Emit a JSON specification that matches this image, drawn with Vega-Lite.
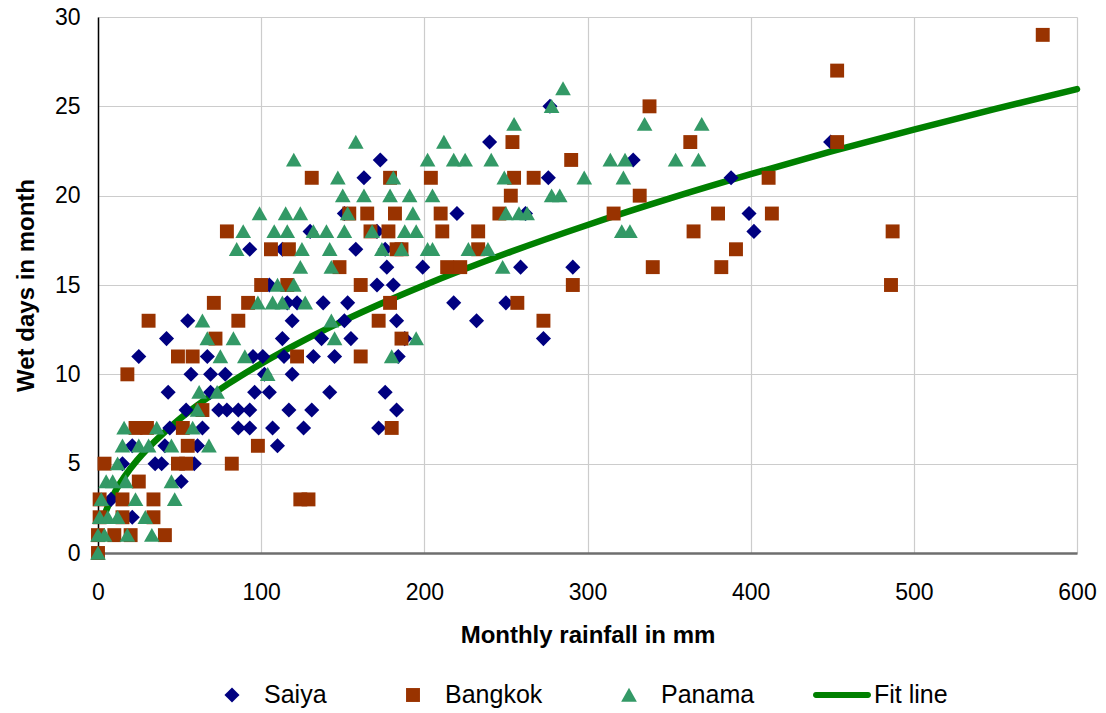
{
  "$schema": "https://vega.github.io/schema/vega-lite/v6.json",
  "autosize": "none",
  "width": 979,
  "height": 536,
  "padding": {"left": 98, "top": 17, "right": 29, "bottom": 160},
  "background": "white",
  "config": {
    "font": "Liberation Sans",
    "view": {"stroke": null},
    "axis": {
      "labelFont": "Liberation Sans",
      "labelFontSize": 23,
      "labelColor": "black",
      "labelFlush": false,
      "titleFont": "Liberation Sans",
      "titleFontSize": 24,
      "titleFontWeight": "bold",
      "titleColor": "black",
      "ticks": false,
      "grid": true,
      "gridColor": "#cccccc",
      "gridWidth": 1.2
    },
    "legend": {
      "labelFont": "Liberation Sans",
      "labelFontSize": 25,
      "labelColor": "black"
    }
  },
  "datasets": {
    "points": [
      {"series":"Saiya","rain":277,"days":25},
      {"series":"Saiya","rain":240,"days":23},
      {"series":"Saiya","rain":449,"days":23},
      {"series":"Saiya","rain":173,"days":22},
      {"series":"Saiya","rain":328,"days":22},
      {"series":"Saiya","rain":163,"days":21},
      {"series":"Saiya","rain":276,"days":21},
      {"series":"Saiya","rain":388,"days":21},
      {"series":"Saiya","rain":151,"days":19},
      {"series":"Saiya","rain":220,"days":19},
      {"series":"Saiya","rain":262,"days":19},
      {"series":"Saiya","rain":399,"days":19},
      {"series":"Saiya","rain":130,"days":18},
      {"series":"Saiya","rain":171,"days":18},
      {"series":"Saiya","rain":402,"days":18},
      {"series":"Saiya","rain":93,"days":17},
      {"series":"Saiya","rain":113,"days":17},
      {"series":"Saiya","rain":158,"days":17},
      {"series":"Saiya","rain":176,"days":17},
      {"series":"Saiya","rain":177,"days":16},
      {"series":"Saiya","rain":199,"days":16},
      {"series":"Saiya","rain":259,"days":16},
      {"series":"Saiya","rain":291,"days":16},
      {"series":"Saiya","rain":105,"days":15},
      {"series":"Saiya","rain":171,"days":15},
      {"series":"Saiya","rain":181,"days":15},
      {"series":"Saiya","rain":116,"days":14},
      {"series":"Saiya","rain":122,"days":14},
      {"series":"Saiya","rain":138,"days":14},
      {"series":"Saiya","rain":153,"days":14},
      {"series":"Saiya","rain":218,"days":14},
      {"series":"Saiya","rain":250,"days":14},
      {"series":"Saiya","rain":55,"days":13},
      {"series":"Saiya","rain":119,"days":13},
      {"series":"Saiya","rain":151,"days":13},
      {"series":"Saiya","rain":183,"days":13},
      {"series":"Saiya","rain":232,"days":13},
      {"series":"Saiya","rain":42,"days":12},
      {"series":"Saiya","rain":113,"days":12},
      {"series":"Saiya","rain":137,"days":12},
      {"series":"Saiya","rain":155,"days":12},
      {"series":"Saiya","rain":188,"days":12},
      {"series":"Saiya","rain":273,"days":12},
      {"series":"Saiya","rain":25,"days":11},
      {"series":"Saiya","rain":67,"days":11},
      {"series":"Saiya","rain":95,"days":11},
      {"series":"Saiya","rain":101,"days":11},
      {"series":"Saiya","rain":114,"days":11},
      {"series":"Saiya","rain":132,"days":11},
      {"series":"Saiya","rain":145,"days":11},
      {"series":"Saiya","rain":184,"days":11},
      {"series":"Saiya","rain":57,"days":10},
      {"series":"Saiya","rain":69,"days":10},
      {"series":"Saiya","rain":78,"days":10},
      {"series":"Saiya","rain":102,"days":10},
      {"series":"Saiya","rain":119,"days":10},
      {"series":"Saiya","rain":43,"days":9},
      {"series":"Saiya","rain":69,"days":9},
      {"series":"Saiya","rain":96,"days":9},
      {"series":"Saiya","rain":105,"days":9},
      {"series":"Saiya","rain":142,"days":9},
      {"series":"Saiya","rain":176,"days":9},
      {"series":"Saiya","rain":54,"days":8},
      {"series":"Saiya","rain":74,"days":8},
      {"series":"Saiya","rain":79,"days":8},
      {"series":"Saiya","rain":86,"days":8},
      {"series":"Saiya","rain":93,"days":8},
      {"series":"Saiya","rain":117,"days":8},
      {"series":"Saiya","rain":131,"days":8},
      {"series":"Saiya","rain":183,"days":8},
      {"series":"Saiya","rain":44,"days":7},
      {"series":"Saiya","rain":64,"days":7},
      {"series":"Saiya","rain":86,"days":7},
      {"series":"Saiya","rain":93,"days":7},
      {"series":"Saiya","rain":107,"days":7},
      {"series":"Saiya","rain":126,"days":7},
      {"series":"Saiya","rain":172,"days":7},
      {"series":"Saiya","rain":21,"days":6},
      {"series":"Saiya","rain":41,"days":6},
      {"series":"Saiya","rain":61,"days":6},
      {"series":"Saiya","rain":110,"days":6},
      {"series":"Saiya","rain":15,"days":5},
      {"series":"Saiya","rain":35,"days":5},
      {"series":"Saiya","rain":39,"days":5},
      {"series":"Saiya","rain":59,"days":5},
      {"series":"Saiya","rain":51,"days":4},
      {"series":"Saiya","rain":8,"days":3},
      {"series":"Saiya","rain":21,"days":2},
      {"series":"Bangkok","rain":579,"days":29},
      {"series":"Bangkok","rain":453,"days":27},
      {"series":"Bangkok","rain":338,"days":25},
      {"series":"Bangkok","rain":254,"days":23},
      {"series":"Bangkok","rain":363,"days":23},
      {"series":"Bangkok","rain":453,"days":23},
      {"series":"Bangkok","rain":290,"days":22},
      {"series":"Bangkok","rain":131,"days":21},
      {"series":"Bangkok","rain":179,"days":21},
      {"series":"Bangkok","rain":204,"days":21},
      {"series":"Bangkok","rain":255,"days":21},
      {"series":"Bangkok","rain":267,"days":21},
      {"series":"Bangkok","rain":411,"days":21},
      {"series":"Bangkok","rain":253,"days":20},
      {"series":"Bangkok","rain":332,"days":20},
      {"series":"Bangkok","rain":154,"days":19},
      {"series":"Bangkok","rain":165,"days":19},
      {"series":"Bangkok","rain":182,"days":19},
      {"series":"Bangkok","rain":210,"days":19},
      {"series":"Bangkok","rain":246,"days":19},
      {"series":"Bangkok","rain":316,"days":19},
      {"series":"Bangkok","rain":380,"days":19},
      {"series":"Bangkok","rain":413,"days":19},
      {"series":"Bangkok","rain":79,"days":18},
      {"series":"Bangkok","rain":167,"days":18},
      {"series":"Bangkok","rain":178,"days":18},
      {"series":"Bangkok","rain":211,"days":18},
      {"series":"Bangkok","rain":233,"days":18},
      {"series":"Bangkok","rain":365,"days":18},
      {"series":"Bangkok","rain":487,"days":18},
      {"series":"Bangkok","rain":106,"days":17},
      {"series":"Bangkok","rain":117,"days":17},
      {"series":"Bangkok","rain":183,"days":17},
      {"series":"Bangkok","rain":186,"days":17},
      {"series":"Bangkok","rain":233,"days":17},
      {"series":"Bangkok","rain":391,"days":17},
      {"series":"Bangkok","rain":148,"days":16},
      {"series":"Bangkok","rain":214,"days":16},
      {"series":"Bangkok","rain":222,"days":16},
      {"series":"Bangkok","rain":340,"days":16},
      {"series":"Bangkok","rain":382,"days":16},
      {"series":"Bangkok","rain":100,"days":15},
      {"series":"Bangkok","rain":116,"days":15},
      {"series":"Bangkok","rain":161,"days":15},
      {"series":"Bangkok","rain":291,"days":15},
      {"series":"Bangkok","rain":486,"days":15},
      {"series":"Bangkok","rain":71,"days":14},
      {"series":"Bangkok","rain":92,"days":14},
      {"series":"Bangkok","rain":179,"days":14},
      {"series":"Bangkok","rain":257,"days":14},
      {"series":"Bangkok","rain":31,"days":13},
      {"series":"Bangkok","rain":86,"days":13},
      {"series":"Bangkok","rain":172,"days":13},
      {"series":"Bangkok","rain":273,"days":13},
      {"series":"Bangkok","rain":72,"days":12},
      {"series":"Bangkok","rain":186,"days":12},
      {"series":"Bangkok","rain":49,"days":11},
      {"series":"Bangkok","rain":58,"days":11},
      {"series":"Bangkok","rain":122,"days":11},
      {"series":"Bangkok","rain":161,"days":11},
      {"series":"Bangkok","rain":18,"days":10},
      {"series":"Bangkok","rain":64,"days":8},
      {"series":"Bangkok","rain":23,"days":7},
      {"series":"Bangkok","rain":30,"days":7},
      {"series":"Bangkok","rain":52,"days":7},
      {"series":"Bangkok","rain":180,"days":7},
      {"series":"Bangkok","rain":55,"days":6},
      {"series":"Bangkok","rain":98,"days":6},
      {"series":"Bangkok","rain":4,"days":5},
      {"series":"Bangkok","rain":49,"days":5},
      {"series":"Bangkok","rain":54,"days":5},
      {"series":"Bangkok","rain":82,"days":5},
      {"series":"Bangkok","rain":25,"days":4},
      {"series":"Bangkok","rain":1,"days":3},
      {"series":"Bangkok","rain":15,"days":3},
      {"series":"Bangkok","rain":34,"days":3},
      {"series":"Bangkok","rain":124,"days":3},
      {"series":"Bangkok","rain":129,"days":3},
      {"series":"Bangkok","rain":1,"days":2},
      {"series":"Bangkok","rain":15,"days":2},
      {"series":"Bangkok","rain":34,"days":2},
      {"series":"Bangkok","rain":0,"days":1},
      {"series":"Bangkok","rain":10,"days":1},
      {"series":"Bangkok","rain":20,"days":1},
      {"series":"Bangkok","rain":41,"days":1},
      {"series":"Bangkok","rain":0,"days":0},
      {"series":"Panama","rain":285,"days":26},
      {"series":"Panama","rain":278,"days":25},
      {"series":"Panama","rain":255,"days":24},
      {"series":"Panama","rain":335,"days":24},
      {"series":"Panama","rain":370,"days":24},
      {"series":"Panama","rain":158,"days":23},
      {"series":"Panama","rain":212,"days":23},
      {"series":"Panama","rain":120,"days":22},
      {"series":"Panama","rain":202,"days":22},
      {"series":"Panama","rain":218,"days":22},
      {"series":"Panama","rain":225,"days":22},
      {"series":"Panama","rain":241,"days":22},
      {"series":"Panama","rain":314,"days":22},
      {"series":"Panama","rain":323,"days":22},
      {"series":"Panama","rain":354,"days":22},
      {"series":"Panama","rain":368,"days":22},
      {"series":"Panama","rain":147,"days":21},
      {"series":"Panama","rain":181,"days":21},
      {"series":"Panama","rain":249,"days":21},
      {"series":"Panama","rain":298,"days":21},
      {"series":"Panama","rain":322,"days":21},
      {"series":"Panama","rain":150,"days":20},
      {"series":"Panama","rain":163,"days":20},
      {"series":"Panama","rain":179,"days":20},
      {"series":"Panama","rain":191,"days":20},
      {"series":"Panama","rain":205,"days":20},
      {"series":"Panama","rain":278,"days":20},
      {"series":"Panama","rain":283,"days":20},
      {"series":"Panama","rain":99,"days":19},
      {"series":"Panama","rain":115,"days":19},
      {"series":"Panama","rain":124,"days":19},
      {"series":"Panama","rain":153,"days":19},
      {"series":"Panama","rain":193,"days":19},
      {"series":"Panama","rain":250,"days":19},
      {"series":"Panama","rain":258,"days":19},
      {"series":"Panama","rain":263,"days":19},
      {"series":"Panama","rain":89,"days":18},
      {"series":"Panama","rain":108,"days":18},
      {"series":"Panama","rain":116,"days":18},
      {"series":"Panama","rain":132,"days":18},
      {"series":"Panama","rain":140,"days":18},
      {"series":"Panama","rain":151,"days":18},
      {"series":"Panama","rain":168,"days":18},
      {"series":"Panama","rain":188,"days":18},
      {"series":"Panama","rain":195,"days":18},
      {"series":"Panama","rain":321,"days":18},
      {"series":"Panama","rain":326,"days":18},
      {"series":"Panama","rain":85,"days":17},
      {"series":"Panama","rain":125,"days":17},
      {"series":"Panama","rain":142,"days":17},
      {"series":"Panama","rain":174,"days":17},
      {"series":"Panama","rain":186,"days":17},
      {"series":"Panama","rain":202,"days":17},
      {"series":"Panama","rain":205,"days":17},
      {"series":"Panama","rain":227,"days":17},
      {"series":"Panama","rain":239,"days":17},
      {"series":"Panama","rain":124,"days":16},
      {"series":"Panama","rain":143,"days":16},
      {"series":"Panama","rain":248,"days":16},
      {"series":"Panama","rain":110,"days":15},
      {"series":"Panama","rain":120,"days":15},
      {"series":"Panama","rain":98,"days":14},
      {"series":"Panama","rain":107,"days":14},
      {"series":"Panama","rain":113,"days":14},
      {"series":"Panama","rain":127,"days":14},
      {"series":"Panama","rain":64,"days":13},
      {"series":"Panama","rain":143,"days":13},
      {"series":"Panama","rain":67,"days":12},
      {"series":"Panama","rain":83,"days":12},
      {"series":"Panama","rain":145,"days":12},
      {"series":"Panama","rain":195,"days":12},
      {"series":"Panama","rain":75,"days":11},
      {"series":"Panama","rain":90,"days":11},
      {"series":"Panama","rain":180,"days":11},
      {"series":"Panama","rain":104,"days":10},
      {"series":"Panama","rain":62,"days":9},
      {"series":"Panama","rain":73,"days":9},
      {"series":"Panama","rain":61,"days":8},
      {"series":"Panama","rain":16,"days":7},
      {"series":"Panama","rain":36,"days":7},
      {"series":"Panama","rain":58,"days":7},
      {"series":"Panama","rain":15,"days":6},
      {"series":"Panama","rain":25,"days":6},
      {"series":"Panama","rain":31,"days":6},
      {"series":"Panama","rain":45,"days":6},
      {"series":"Panama","rain":68,"days":6},
      {"series":"Panama","rain":12,"days":5},
      {"series":"Panama","rain":5,"days":4},
      {"series":"Panama","rain":9,"days":4},
      {"series":"Panama","rain":17,"days":4},
      {"series":"Panama","rain":45,"days":4},
      {"series":"Panama","rain":2,"days":3},
      {"series":"Panama","rain":23,"days":3},
      {"series":"Panama","rain":47,"days":3},
      {"series":"Panama","rain":1,"days":2},
      {"series":"Panama","rain":6,"days":2},
      {"series":"Panama","rain":12,"days":2},
      {"series":"Panama","rain":29,"days":2},
      {"series":"Panama","rain":0,"days":1},
      {"series":"Panama","rain":4,"days":1},
      {"series":"Panama","rain":18,"days":1},
      {"series":"Panama","rain":33,"days":1},
      {"series":"Panama","rain":0,"days":0}
    ],
    "fit": [
      {"series":"Fit line","rain":4,"days":2.12},
      {"series":"Fit line","rain":5,"days":2.37},
      {"series":"Fit line","rain":10,"days":3.35},
      {"series":"Fit line","rain":20,"days":4.74},
      {"series":"Fit line","rain":30,"days":5.81},
      {"series":"Fit line","rain":40,"days":6.7},
      {"series":"Fit line","rain":50,"days":7.5},
      {"series":"Fit line","rain":60,"days":8.21},
      {"series":"Fit line","rain":80,"days":9.48},
      {"series":"Fit line","rain":100,"days":10.6},
      {"series":"Fit line","rain":125,"days":11.85},
      {"series":"Fit line","rain":150,"days":12.98},
      {"series":"Fit line","rain":175,"days":14.02},
      {"series":"Fit line","rain":200,"days":14.99},
      {"series":"Fit line","rain":250,"days":16.76},
      {"series":"Fit line","rain":300,"days":18.36},
      {"series":"Fit line","rain":350,"days":19.83},
      {"series":"Fit line","rain":400,"days":21.2},
      {"series":"Fit line","rain":450,"days":22.49},
      {"series":"Fit line","rain":500,"days":23.7},
      {"series":"Fit line","rain":550,"days":24.86},
      {"series":"Fit line","rain":600,"days":25.96}
    ]
  },
  "encoding": {
    "x": {
      "field": "rain",
      "type": "quantitative",
      "scale": {"domain": [0, 600], "nice": false, "zero": true},
      "axis": {
        "values": [0, 100, 200, 300, 400, 500, 600],
        "title": "Monthly rainfall in mm",
        "labelPadding": 28,
        "titlePadding": 19,
        "domainColor": "#6e6e6e",
        "domainWidth": 2.5
      }
    },
    "y": {
      "field": "days",
      "type": "quantitative",
      "scale": {"domain": [0, 30], "nice": false},
      "axis": {
        "values": [0, 5, 10, 15, 20, 25, 30],
        "title": "Wet days in month",
        "labelPadding": 18,
        "titlePadding": 16,
        "domainColor": "black",
        "domainWidth": 1.5
      }
    },
    "color": {
      "field": "series",
      "type": "nominal",
      "scale": {
        "domain": ["Saiya", "Bangkok", "Panama", "Fit line"],
        "range": ["#000080", "#993300", "#339966", "#008000"]
      },
      "legend": {
        "title": null,
        "orient": "none",
        "direction": "horizontal",
        "legendX": 105,
        "legendY": 649,
        "symbolSize": 3364,
        "symbolStrokeWidth": 0,
        "symbolOpacity": 1,
        "labelOffset": 3,
        "columnPadding": 57,
        "labelFontSize": 25,
        "encode": {
          "symbols": {
            "update": {
              "fill": {"scale": "color", "field": "value"},
              "stroke": {"value": "transparent"},
              "opacity": {"value": 1}
            }
          }
        }
      }
    }
  },
  "layer": [
    {
      "data": {"name": "fit"},
      "mark": {"type": "line", "strokeWidth": 6.5, "strokeCap": "round", "interpolate": "monotone"}
    },
    {
      "data": {"name": "points"},
      "mark": {"type": "point", "filled": true, "opacity": 1, "size": 3364, "strokeWidth": 0},
      "encoding": {
        "shape": {
          "field": "series",
          "type": "nominal",
          "scale": {
            "domain": ["Saiya", "Bangkok", "Panama", "Fit line"],
            "range": [
              "M0,-0.26L0.26,0L0,0.26L-0.26,0Z",
              "M-0.24,-0.24H0.24V0.24H-0.24Z",
              "M0,-0.25L0.27,0.23H-0.27Z",
              "M-0.9,-0.1H0.9A0.1,0.1 0 0 1 0.9,0.1H-0.9A0.1,0.1 0 0 1 -0.9,-0.1Z"
            ]
          },
          "legend": {
            "title": null,
            "orient": "none",
            "direction": "horizontal",
            "legendX": 105,
            "legendY": 649,
            "symbolSize": 3364,
            "labelOffset": 3,
            "columnPadding": 57
          }
        }
      }
    }
  ]
}
